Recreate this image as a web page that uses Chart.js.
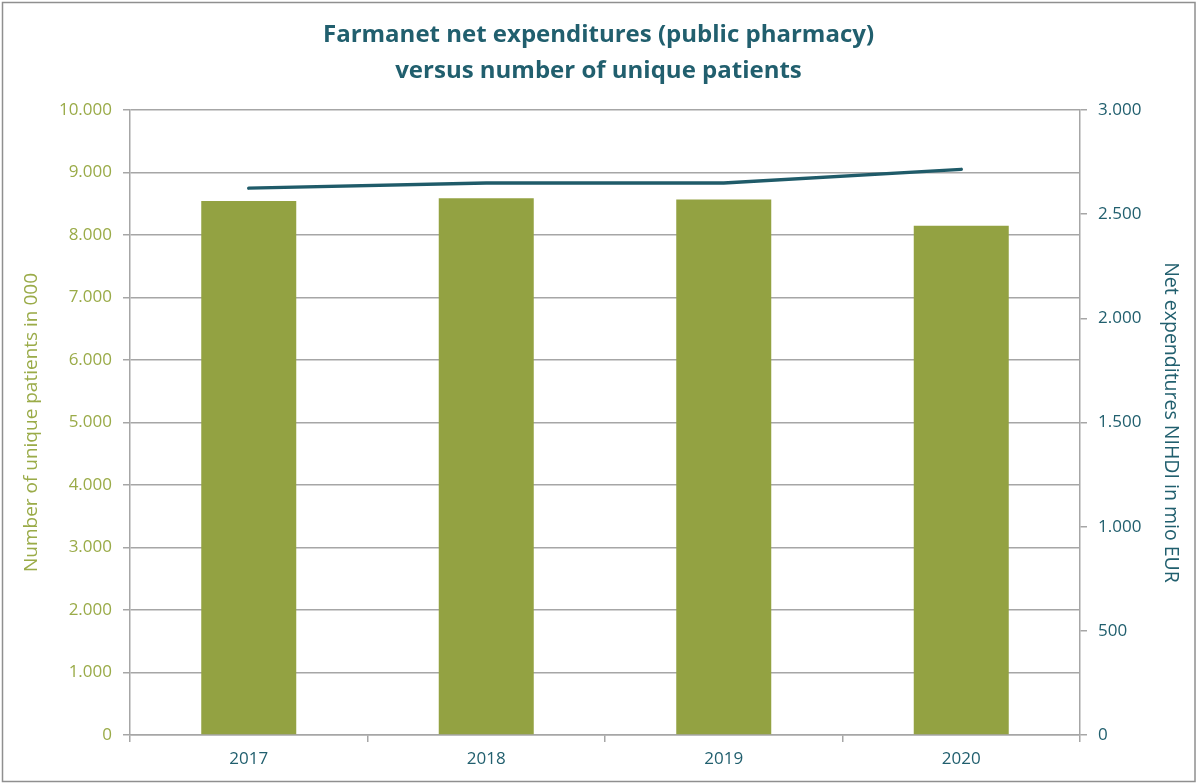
<!DOCTYPE html>
<html>
<head>
<meta charset="utf-8">
<script src="https://cdn.jsdelivr.net/npm/chart.js@4/dist/chart.umd.min.js"></script>
<style>
    html, body { margin: 0; padding: 0; background: #ffffff; }
    #wrap { width: 1197px; height: 783px; position: relative; }
</style>
</head>
<body>
<div id="wrap"><canvas id="farmanet"></canvas></div>
<script>
const years = ["2017", "2018", "2019", "2020"];
const patients = [8545, 8590, 8570, 8150];        // in 000, left axis
const expenditures = [2625, 2650, 2650, 2715];    // mio EUR, right axis

const titleLines = ["Farmanet net expenditures (public pharmacy)", "versus number of unique patients"];
const leftTitle = "Number of unique patients in 000";
const rightTitle = "Net expenditures NIHDI in mio EUR";

const teal = "#215f6e";
const olive = "#93a242";
const oliveText = "#9aab48";
const gridGrey = "#a6a6a6";
const font = "'Open Sans', 'Noto Sans', sans-serif";

// 10000 -> "10.000"
function dotted(v){
    return String(v).replace(/\B(?=(\d{3})+(?!\d))/g, ".");
}

const frame = {
    id: "frame",
    beforeDraw(chart){
        let ctx = chart.ctx;
        ctx.save();
        ctx.fillStyle = "#ffffff";
        ctx.fillRect(0, 0, chart.width, chart.height);
        ctx.strokeStyle = "#8f8f8f";
        ctx.lineWidth = 1.5;
        ctx.strokeRect(2.5, 2.5, chart.width - 4.5, chart.height - 4);
        ctx.restore();
    }
};

new Chart("farmanet", {
    data: {
        labels: years,
        datasets: [
            {
                type: "line",
                label: "Net expenditures",
                data: expenditures,
                yAxisID: "yR",
                borderColor: "#1f5b69",
                borderWidth: 3.5,
                borderCapStyle: "round",
                pointRadius: 0,
                tension: 0,
                order: 0,
            },
            {
                type: "bar",
                label: "Unique patients",
                data: patients,
                yAxisID: "yL",
                backgroundColor: olive,
                categoryPercentage: 1,
                barPercentage: 0.4,
                order: 1,
            },
        ],
    },
    options: {
        responsive: true,
        maintainAspectRatio: false,
        animation: false,
        layout: { padding: { left: 0, right: 0, top: 0, bottom: 0 } },
        plugins: {
            legend: { display: false },
            tooltip: { enabled: false },
            title: {
                display: true,
                text: titleLines,
                color: teal,
                font: { family: font, size: 24, weight: "bold", lineHeight: 1.5 },
                padding: { top: 17, bottom: 21 },
            },
        },
        scales: {
            x: {
                offset: true,
                grid: { offset: true, drawOnChartArea: false, color: gridGrey, lineWidth: 1.5, tickLength: 7 },
                border: { color: gridGrey, width: 1.5 },
                ticks: { color: teal, font: { family: font, size: 17 }, padding: 7 },
                afterFit: (s) => { s.height = 48; },
            },
            yL: {
                position: "left",
                min: 0,
                max: 10000,
                ticks: { stepSize: 1000, color: oliveText, font: { family: font, size: 17 }, padding: 11, callback: (v) => dotted(v) },
                grid: { color: gridGrey, lineWidth: 1.5, tickLength: 7 },
                border: { color: gridGrey, width: 1.5 },
                title: { display: true, text: leftTitle, color: oliveText, font: { family: font, size: 19 }, padding: { top: 20, bottom: 0 } },
                afterFit: (s) => { s.width = 130; },
            },
            yR: {
                position: "right",
                min: 0,
                max: 3000,
                ticks: { stepSize: 500, color: teal, font: { family: font, size: 17 }, padding: 11, callback: (v) => dotted(v) },
                grid: { drawOnChartArea: false, color: gridGrey, lineWidth: 1.5, tickLength: 7 },
                border: { color: gridGrey, width: 1.5 },
                title: { display: true, text: rightTitle, color: teal, font: { family: font, size: 19.5 }, padding: { top: 15, bottom: 0 } },
                afterFit: (s) => { s.width = 117; },
            },
        },
    },
    plugins: [frame],
});
</script>
</body>
</html>
